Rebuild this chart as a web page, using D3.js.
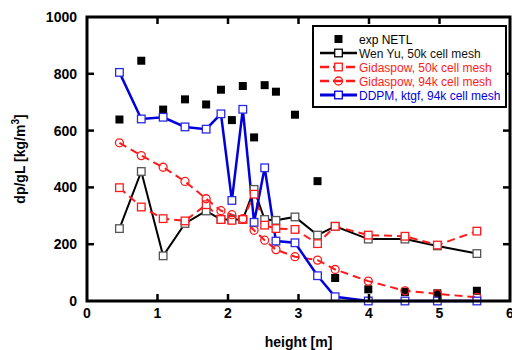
<!DOCTYPE html>
<html>
<head>
<meta charset="utf-8">
<script src="https://cdn.jsdelivr.net/npm/d3@7"></script>
<style>
  body { margin: 0; background: #fff; }
  svg { display: block; font-family: "Liberation Sans", Arial, sans-serif; }
</style>
</head>
<body>
<div id="chart"></div>
<script>
// heights shared by every series [m]
const heights = [0.46, 0.77, 1.08, 1.39, 1.69, 1.9, 2.055, 2.21, 2.37, 2.52, 2.68, 2.95, 3.27, 3.52, 3.99, 4.51, 4.97, 5.53];

const expNetl   = [639, 846, 674, 710, 692, 744, 637, 757, 576, 760, 737, 656, 422, 81, 41, 32, 27, 36];
const wenYu50k  = [255, 456, 159, 273, 317, 287, 287, 287, 393, 287, 284, 296, 232, 263, 218, 218, 194, 167];
const gida50k   = [399, 331, 290, 282, 339, 287, 284, 287, 376, 267, 255, 252, 202, 263, 232, 228, 197, 246];
const gida94k   = [557, 512, 471, 421, 360, 318, 304, 290, 249, 214, 181, 156, 144, 111, 70, 36, 25, 13];
const ddpm94k   = [805, 641, 647, 613, 605, 659, 354, 675, 277, 469, 211, 205, 89, 15, 0, 0, 0, 0];

const xTicks = [0, 1, 2, 3, 4, 5, 6];
const yTicks = [0, 200, 400, 600, 800, 1000];

const W = 512, H = 350;
const svg = d3.select("#chart").append("svg")
  .attr("width", W)
  .attr("height", H);

const x = d3.scaleLinear().domain([0, 6]).range([87, 510]);
const y = d3.scaleLinear().domain([0, 1000]).range([301, 17]);

const series = [
  { name: "exp NETL", values: expNetl, color: "#000", line: false, marker: "filled" },
  { name: "Wen Yu, 50k cell mesh", values: wenYu50k, color: "#000", mstroke: "#555", text: "#111", line: true, dash: null, marker: "square", width: 2 },
  { name: "Gidaspow, 50k cell mesh", values: gida50k, color: "#ff1a1a", line: true, dash: "8,5", marker: "square", width: 2 },
  { name: "Gidaspow, 94k cell mesh", values: gida94k, color: "#ff1a1a", line: true, dash: "8,5", marker: "circle", width: 2 },
  { name: "DDPM, ktgf, 94k cell mesh", values: ddpm94k, color: "#0000dd", mstroke: "#2a2ae0", line: true, dash: null, marker: "square", width: 2.5 }
];

const plot = svg.append("g");

// lines first, then markers on top
const lineGen = d3.line().x(d => x(d[0])).y(d => y(d[1]));

function drawMarker(g, s, cx, cy) {
  if (s.marker === "filled") {
    g.append("rect").attr("x", cx - 4).attr("y", cy - 4).attr("width", 8).attr("height", 8).attr("fill", "#000");
  } else if (s.marker === "square") {
    g.append("rect").attr("x", cx - 3.8).attr("y", cy - 3.8).attr("width", 7.6).attr("height", 7.6)
      .attr("fill", "#fff").attr("stroke", s.mstroke || s.color).attr("stroke-width", 1.3);
  } else {
    g.append("circle").attr("cx", cx).attr("cy", cy).attr("r", 4)
      .attr("fill", "none").attr("stroke", s.color).attr("stroke-width", 1.3);
  }
}

[1, 2, 3, 4].forEach(i => {
  const s = series[i];
  plot.append("path")
    .datum(heights.map((h, j) => [h, s.values[j]]))
    .attr("d", lineGen)
    .attr("fill", "none")
    .attr("stroke", s.color)
    .attr("stroke-width", s.width)
    .attr("stroke-dasharray", s.dash);
});

[0, 1, 2, 3, 4].forEach(i => {
  const s = series[i];
  const g = plot.append("g");
  heights.forEach((h, j) => drawMarker(g, s, x(h), y(s.values[j])));
});

// frame and inward ticks
const frame = svg.append("g");
frame.append("rect")
  .attr("x", x(0)).attr("y", y(1000))
  .attr("width", x(6) - x(0)).attr("height", y(0) - y(1000))
  .attr("fill", "none").attr("stroke", "#000").attr("stroke-width", 3);

xTicks.slice(1, -1).forEach(t => {
  frame.append("line").attr("x1", x(t)).attr("x2", x(t)).attr("y1", y(0)).attr("y2", y(0) - 7)
    .attr("stroke", "#000").attr("stroke-width", 2.5);
  frame.append("line").attr("x1", x(t)).attr("x2", x(t)).attr("y1", y(1000)).attr("y2", y(1000) + 7)
    .attr("stroke", "#000").attr("stroke-width", 2.5);
});
yTicks.slice(1, -1).forEach(t => {
  frame.append("line").attr("x1", x(0)).attr("x2", x(0) + 7).attr("y1", y(t)).attr("y2", y(t))
    .attr("stroke", "#000").attr("stroke-width", 2.5);
  frame.append("line").attr("x1", x(6)).attr("x2", x(6) - 7).attr("y1", y(t)).attr("y2", y(t))
    .attr("stroke", "#000").attr("stroke-width", 2.5);
});

// tick labels
svg.append("g").selectAll("text")
  .data(xTicks).enter().append("text")
  .attr("x", d => x(d)).attr("y", 318)
  .attr("text-anchor", "middle")
  .attr("font-size", "14px").attr("font-weight", "bold")
  .text(d => d);

svg.append("g").selectAll("text")
  .data(yTicks).enter().append("text")
  .attr("x", 77).attr("y", d => y(d) + 5)
  .attr("text-anchor", "end")
  .attr("font-size", "14px").attr("font-weight", "bold")
  .text(d => d);

// axis titles
svg.append("text")
  .attr("x", (x(0) + x(6)) / 2).attr("y", 347)
  .attr("text-anchor", "middle")
  .attr("font-size", "14px").attr("font-weight", "bold")
  .text("height [m]");

const yl = svg.append("text")
  .attr("transform", `translate(25, ${(y(0) + y(1000)) / 2}) rotate(-90)`)
  .attr("text-anchor", "middle")
  .attr("font-size", "14px").attr("font-weight", "bold");
yl.append("tspan").text("dp/gL [kg/m");
yl.append("tspan").attr("dy", -6).attr("font-size", "10px").text("3");
yl.append("tspan").attr("dy", 6).text("]");

// legend
const lg = svg.append("g");
lg.append("rect")
  .attr("x", 313).attr("y", 26).attr("width", 193).attr("height", 81)
  .attr("fill", "#fff").attr("stroke", "#000").attr("stroke-width", 2);

series.forEach((s, i) => {
  const ly = 39 + i * 14;
  const row = lg.append("g");
  if (s.line) {
    row.append("line").attr("x1", 320).attr("x2", 357).attr("y1", ly).attr("y2", ly)
      .attr("stroke", s.color).attr("stroke-width", s.width + 0.5)
      .attr("stroke-dasharray", s.dash ? "9,4" : null);
  }
  drawMarker(row, Object.assign({}, s, { mstroke: s.color }), 338.5, ly);
  row.append("text")
    .attr("x", 359).attr("y", ly + 4.5)
    .attr("font-size", "12px")
    .attr("fill", s.text || s.color)
    .text(s.name);
});
</script>
</body>
</html>
